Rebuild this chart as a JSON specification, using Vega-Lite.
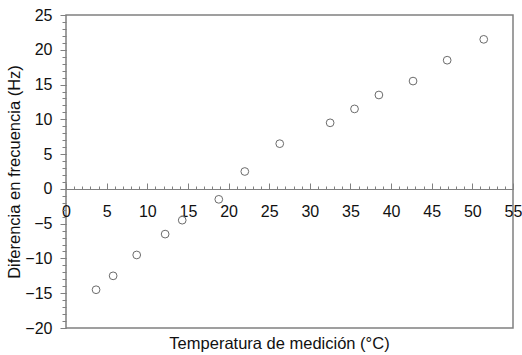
{
  "$schema": "https://vega.github.io/schema/vega-lite/v6.json",
  "width": 447,
  "height": 313,
  "autosize": "none",
  "padding": {"left": 66, "top": 15, "right": 9, "bottom": 27},
  "background": "white",
  "config": {
    "view": {"stroke": "#808080", "strokeWidth": 1.5},
    "font": "Liberation Sans",
    "axis": {
      "labelFont": "Liberation Sans",
      "titleFont": "Liberation Sans",
      "labelFontSize": 16,
      "titleFontSize": 16.5,
      "titleFontWeight": "normal",
      "labelColor": "#111",
      "titleColor": "#111",
      "grid": false,
      "tickColor": "#808080",
      "domainColor": "#808080",
      "labelOverlap": false,
      "labelBound": false,
      "labelFlush": false
    }
  },
  "data": {
    "values": [
      {"t": 3.7, "d": -14.5},
      {"t": 5.8, "d": -12.5},
      {"t": 8.7, "d": -9.5},
      {"t": 12.2, "d": -6.5},
      {"t": 14.3, "d": -4.5},
      {"t": 18.8, "d": -1.5},
      {"t": 22.0, "d": 2.5},
      {"t": 26.3, "d": 6.5},
      {"t": 32.5, "d": 9.5},
      {"t": 35.5, "d": 11.5},
      {"t": 38.5, "d": 13.5},
      {"t": 42.7, "d": 15.5},
      {"t": 46.9, "d": 18.5},
      {"t": 51.4, "d": 21.5}
    ]
  },
  "layer": [
    {
      "mark": {"type": "point", "shape": "circle", "filled": false, "stroke": "#6b6b6b", "fill": "white", "fillOpacity": 1, "strokeWidth": 1, "size": 60, "opacity": 1},
      "encoding": {
        "x": {
          "field": "t", "type": "quantitative",
          "scale": {"domain": [0, 55], "nice": false, "zero": false},
          "axis": {
            "orient": "bottom",
            "offset": -139,
            "values": [0, 5, 10, 15, 20, 25, 30, 35, 40, 45, 50, 55],
            "tickSize": -6,
            "labelPadding": 20,
            "domain": true,
            "domainWidth": 1.2,
            "title": "Temperatura de medición (°C)",
            "titleX": 213,
            "titleY": 159,
            "titleBaseline": "alphabetic",
            "titleAnchor": "middle",
            "titleAlign": "center"
          }
        },
        "y": {
          "field": "d", "type": "quantitative",
          "scale": {"domain": [-20, 25], "nice": false, "zero": false},
          "axis": {
            "orient": "left",
            "values": [-20, -15, -10, -5, 0, 5, 10, 15, 20, 25],
            "tickSize": 6,
            "labelPadding": 8,
            "domain": false,
            "title": "Diferencia en frecuencia  (Hz)",
            "titlePadding": 2
          }
        }
      }
    },
    {
      "mark": {"type": "point", "opacity": 0},
      "encoding": {
        "x": {
          "field": "t", "type": "quantitative",
          "scale": {"domain": [0, 55], "nice": false, "zero": false},
          "axis": {
            "orient": "bottom",
            "offset": -139,
            "values": [0,1,2,3,4,5,6,7,8,9,10,11,12,13,14,15,16,17,18,19,20,21,22,23,24,25,26,27,28,29,30,31,32,33,34,35,36,37,38,39,40,41,42,43,44,45,46,47,48,49,50,51,52,53,54,55],
            "tickSize": -3,
            "labels": false,
            "domain": false,
            "title": null
          }
        },
        "y": {
          "field": "d", "type": "quantitative",
          "scale": {"domain": [-20, 25], "nice": false, "zero": false},
          "axis": {
            "orient": "left",
            "values": [-20,-19,-18,-17,-16,-15,-14,-13,-12,-11,-10,-9,-8,-7,-6,-5,-4,-3,-2,-1,0,1,2,3,4,5,6,7,8,9,10,11,12,13,14,15,16,17,18,19,20,21,22,23,24,25],
            "tickSize": 4,
            "labels": false,
            "domain": false,
            "title": null
          }
        }
      }
    }
  ],
  "resolve": {"axis": {"x": "independent", "y": "independent"}}
}
